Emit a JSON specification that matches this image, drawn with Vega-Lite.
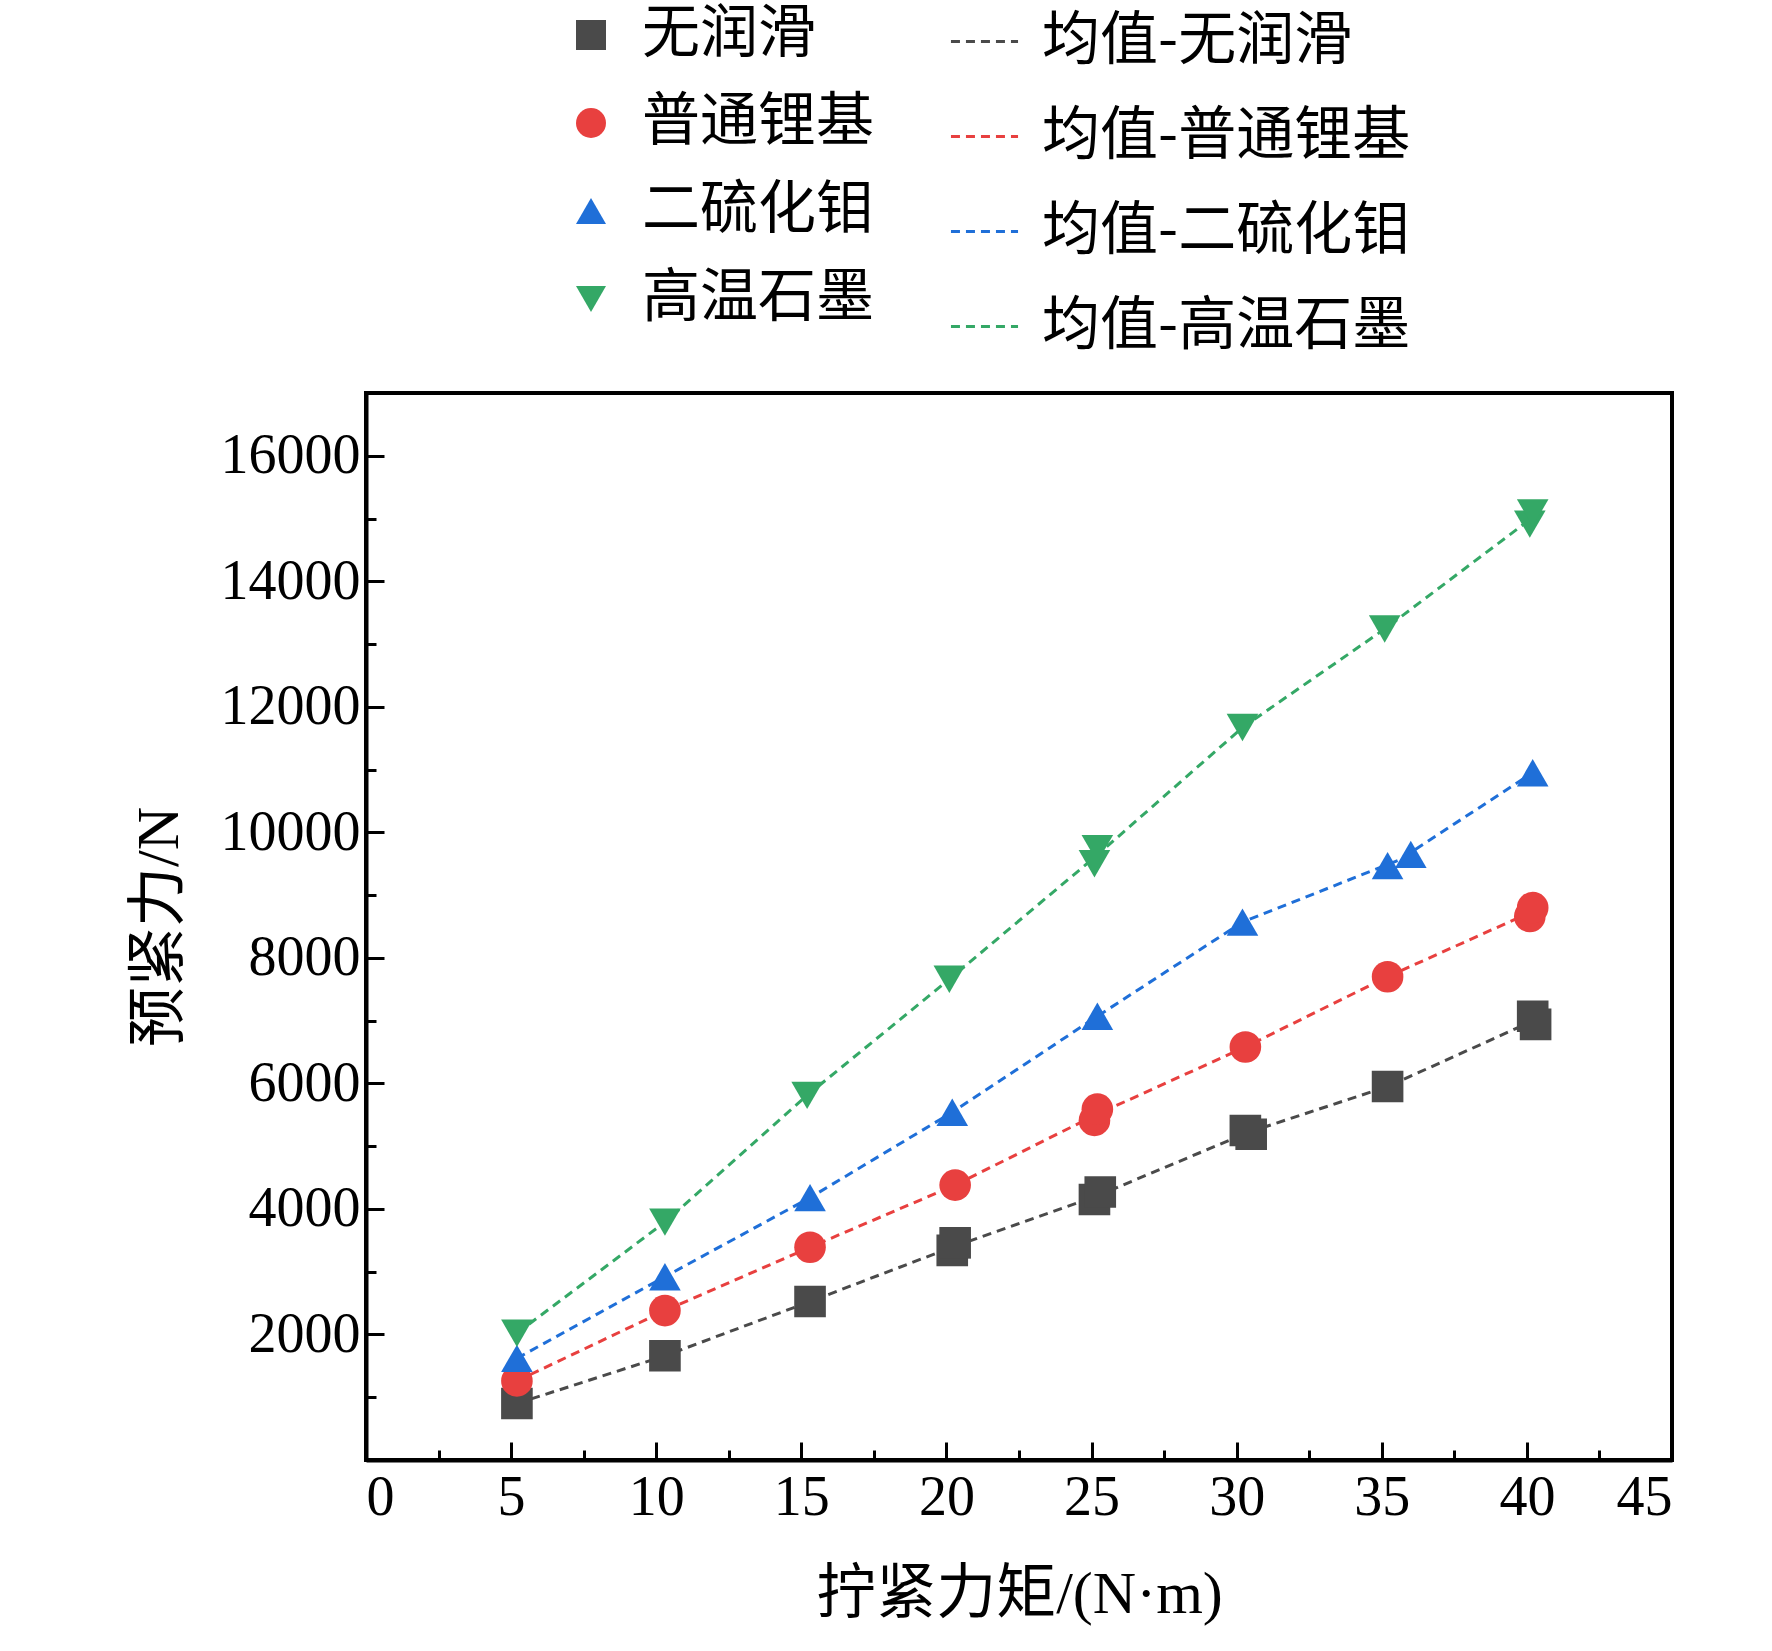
{
  "$schema": "https://vega.github.io/schema/vega-lite/v6.json",
  "autosize": "none",
  "width": 1306,
  "height": 1067,
  "padding": {"left": 366, "top": 393, "right": 100, "bottom": 191},
  "background": "white",
  "data": {"values": [
    {"s": "无润滑", "t": 5, "x": 5.2, "y": 900},
    {"s": "无润滑", "t": 10, "x": 10.3, "y": 1660},
    {"s": "无润滑", "t": 15, "x": 15.3, "y": 2525},
    {"s": "无润滑", "t": 20, "x": 20.2, "y": 3340},
    {"s": "无润滑", "t": 20, "x": 20.3, "y": 3460},
    {"s": "无润滑", "t": 25, "x": 25.1, "y": 4150},
    {"s": "无润滑", "t": 25, "x": 25.3, "y": 4270},
    {"s": "无润滑", "t": 30, "x": 30.3, "y": 5250},
    {"s": "无润滑", "t": 30, "x": 30.5, "y": 5190},
    {"s": "无润滑", "t": 35, "x": 35.2, "y": 5950},
    {"s": "无润滑", "t": 40, "x": 40.2, "y": 7070},
    {"s": "无润滑", "t": 40, "x": 40.3, "y": 6940},
    {"s": "普通锂基", "t": 5, "x": 5.2, "y": 1260},
    {"s": "普通锂基", "t": 10, "x": 10.3, "y": 2380},
    {"s": "普通锂基", "t": 15, "x": 15.3, "y": 3390},
    {"s": "普通锂基", "t": 20, "x": 20.3, "y": 4380},
    {"s": "普通锂基", "t": 25, "x": 25.1, "y": 5410},
    {"s": "普通锂基", "t": 25, "x": 25.2, "y": 5590},
    {"s": "普通锂基", "t": 30, "x": 30.3, "y": 6580},
    {"s": "普通锂基", "t": 35, "x": 35.2, "y": 7700},
    {"s": "普通锂基", "t": 40, "x": 40.1, "y": 8660},
    {"s": "普通锂基", "t": 40, "x": 40.2, "y": 8800},
    {"s": "二硫化钼", "t": 5, "x": 5.2, "y": 1620},
    {"s": "二硫化钼", "t": 10, "x": 10.3, "y": 2920},
    {"s": "二硫化钼", "t": 15, "x": 15.3, "y": 4180},
    {"s": "二硫化钼", "t": 20, "x": 20.2, "y": 5540},
    {"s": "二硫化钼", "t": 25, "x": 25.2, "y": 7070},
    {"s": "二硫化钼", "t": 30, "x": 30.2, "y": 8570},
    {"s": "二硫化钼", "t": 35, "x": 35.2, "y": 9470},
    {"s": "二硫化钼", "t": 35, "x": 36.0, "y": 9650},
    {"s": "二硫化钼", "t": 40, "x": 40.2, "y": 10950},
    {"s": "高温石墨", "t": 5, "x": 5.2, "y": 2020},
    {"s": "高温石墨", "t": 10, "x": 10.3, "y": 3790},
    {"s": "高温石墨", "t": 15, "x": 15.2, "y": 5810},
    {"s": "高温石墨", "t": 20, "x": 20.1, "y": 7660},
    {"s": "高温石墨", "t": 25, "x": 25.2, "y": 9740},
    {"s": "高温石墨", "t": 25, "x": 25.1, "y": 9500},
    {"s": "高温石墨", "t": 30, "x": 30.2, "y": 11670},
    {"s": "高温石墨", "t": 35, "x": 35.1, "y": 13240},
    {"s": "高温石墨", "t": 40, "x": 40.1, "y": 14910},
    {"s": "高温石墨", "t": 40, "x": 40.2, "y": 15090}
  ]},
  "layer": [
    {
      "transform": [
        {"aggregate": [{"op": "mean", "field": "x", "as": "mx"}, {"op": "mean", "field": "y", "as": "my"}], "groupby": ["s", "t"]}
      ],
      "mark": {"type": "line", "strokeDash": [9, 6], "strokeWidth": 3},
      "encoding": {
        "x": {"field": "mx", "type": "quantitative",
          "scale": {"domain": [0, 45], "nice": false},
          "axis": {"orient": "bottom", "values": [2.5, 7.5, 12.5, 17.5, 22.5, 27.5, 32.5, 37.5, 42.5], "labels": false, "domain": false, "grid": false, "tickSize": -10, "tickWidth": 3, "tickColor": "black", "title": null}},
        "y": {"field": "my", "type": "quantitative",
          "scale": {"domain": [0, 17000], "nice": false},
          "axis": {"orient": "left", "values": [1000, 3000, 5000, 7000, 9000, 11000, 13000, 15000, 17000], "labels": false, "domain": false, "grid": false, "tickSize": -10, "tickWidth": 3, "tickColor": "black", "title": null}},
        "order": {"field": "t", "type": "quantitative"},
        "stroke": {"field": "s", "type": "nominal",
          "scale": {"domain": ["无润滑", "普通锂基", "二硫化钼", "高温石墨"], "range": ["#4a4a4a", "#e8403f", "#1f6fd8", "#34a866"]},
          "legend": {"orient": "none", "legendX": 583, "legendY": -387, "title": null, "labelExpr": "'均值-' + datum.label", "labelLimit": 0, "labelFont": "Noto Sans CJK SC", "labelFontSize": 58, "labelColor": "black", "symbolType": "stroke", "symbolStrokeWidth": 3, "symbolDash": [9, 6], "symbolSize": 4500, "rowPadding": 30, "labelOffset": 22}}
      }
    },
    {
      "mark": {"type": "point", "filled": true, "opacity": 1, "size": 1000},
      "encoding": {
        "x": {"field": "x", "type": "quantitative",
          "axis": {"orient": "bottom", "values": [0, 5, 10, 15, 20, 25, 30, 35, 40, 45], "title": "拧紧力矩/(N·m)", "grid": false, "domainColor": "black", "domainWidth": 4, "tickSize": -18, "tickWidth": 3, "tickColor": "black", "labelPadding": 28, "labelFont": "Liberation Serif", "labelFontSize": 56, "labelColor": "black", "titleFont": "Liberation Serif, Noto Sans CJK SC", "titleFontSize": 60, "titleFontWeight": "normal", "titlePadding": 40}},
        "y": {"field": "y", "type": "quantitative",
          "axis": {"orient": "left", "values": [2000, 4000, 6000, 8000, 10000, 12000, 14000, 16000], "format": "d", "title": "预紧力/N", "grid": false, "domainColor": "black", "domainWidth": 4, "tickSize": -18, "tickWidth": 3, "tickColor": "black", "labelPadding": 24, "labelFont": "Liberation Serif", "labelFontSize": 56, "labelColor": "black", "titleFont": "Liberation Serif, Noto Sans CJK SC", "titleFontSize": 60, "titleFontWeight": "normal", "titlePadding": 30}},
        "fill": {"field": "s", "type": "nominal",
          "scale": {"domain": ["无润滑", "普通锂基", "二硫化钼", "高温石墨"], "range": ["#4a4a4a", "#e8403f", "#1f6fd8", "#34a866"]},
          "legend": {"orient": "none", "legendX": 196, "legendY": -387, "title": null, "labelLimit": 0, "labelFont": "Noto Sans CJK SC", "labelFontSize": 58, "labelColor": "black", "symbolSize": 900, "symbolOpacity": 1, "rowPadding": 30, "labelOffset": 22}},
        "shape": {"field": "s", "type": "nominal",
          "scale": {"domain": ["无润滑", "普通锂基", "二硫化钼", "高温石墨"], "range": ["square", "circle", "triangle-up", "triangle-down"]},
          "legend": {"orient": "none", "legendX": 196, "legendY": -387, "title": null, "labelLimit": 0, "labelFont": "Noto Sans CJK SC", "labelFontSize": 58, "labelColor": "black", "symbolSize": 900, "symbolOpacity": 1, "rowPadding": 30, "labelOffset": 22}}
      }
    }
  ],
  "resolve": {"axis": {"x": "independent", "y": "independent"}, "legend": {"stroke": "independent", "fill": "independent", "shape": "independent"}},
  "config": {"view": {"stroke": "black", "strokeWidth": 4}}
}
